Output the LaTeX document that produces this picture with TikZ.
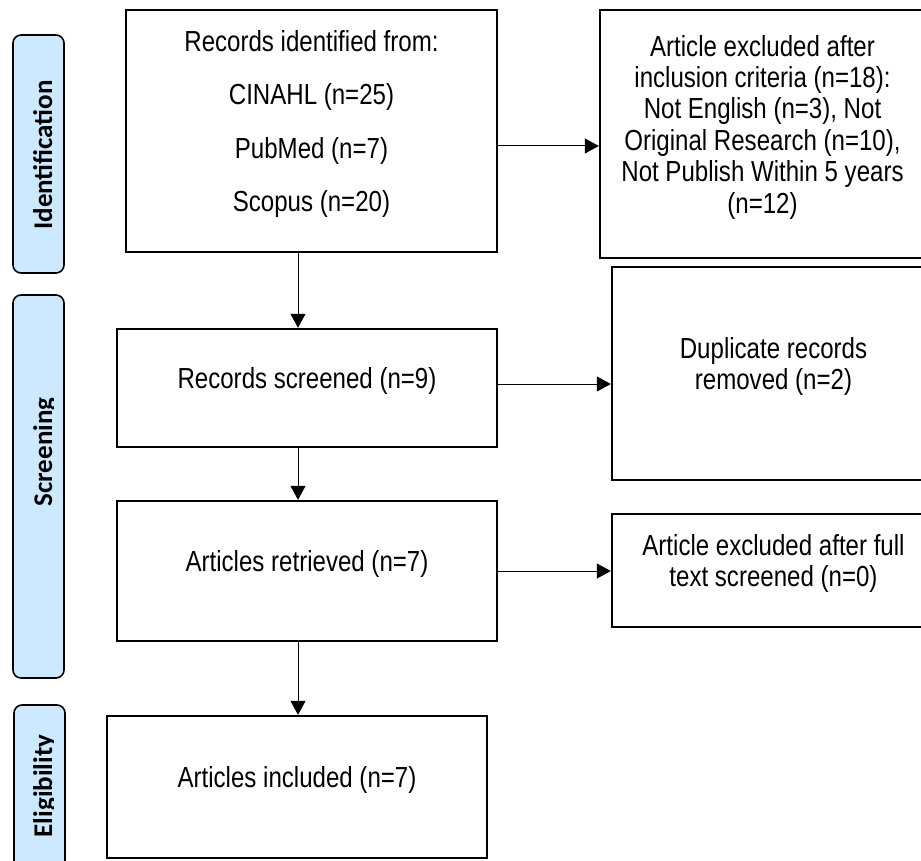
\documentclass[tikz,border=0pt]{standalone}
\usepackage{fontspec}
\setmainfont{Liberation Sans}[FakeStretch=0.83]
\newfontfamily\phasefont{Carlito}
\usetikzlibrary{arrows.meta}
\definecolor{phaseblue}{HTML}{CCE9FF}

\begin{document}
\begin{tikzpicture}[x=0.5pt, y=-0.5pt,
        box/.style={rectangle, draw, line width=1.2pt, align=center, inner sep=0pt, text depth=10pt, font=\fontsize{14.5pt}{15.7pt}\selectfont},
        phase/.style={rectangle, draw, line width=0.8pt, fill=phaseblue, rounded corners=4pt, minimum width=25.5pt, inner sep=0pt},
        phasetext/.style={rotate=90, anchor=base, inner sep=0pt, font=\phasefont\bfseries\fontsize{13.5pt}{16pt}\selectfont},
        arr/.style={-{Triangle[length=7pt, width=7.5pt]}, line width=0.5pt}]
        \useasboundingbox (0,0) rectangle (921,861);
        \clip (0,0) rectangle (921,861);

        \node[phase, minimum height=119pt] (idbar) at (38.5,154) {};
        \node[phase, minimum height=191.5pt] (scrbar) at (38.5,486.5) {};
        \node[phase, minimum height=85pt] (elibar) at (39.5,790) {};
        \begin{scope}
            \clip (0,0) rectangle (53.5,861);
            \node[phasetext] (idtxt) at (52,155) {Identification};
            \node[phasetext] (scrtxt) at (52,452) {Screening};
            \node[phasetext] (elitxt) at (52,786) {Eligibility};
        \end{scope}

        \node[box, minimum width=185.5pt, minimum height=121pt] (ids) at (311.5,131) {Records identified from:\\[11pt] CINAHL (n=25)\\[11pt] PubMed (n=7)\\[11pt] Scopus (n=20)};
        \node[box, minimum width=190pt, minimum height=59pt] (scr) at (307,388) {Records screened (n=9)};
        \node[box, minimum width=190pt, minimum height=70pt] (ret) at (307,571) {Articles retrieved (n=7)};
        \node[box, minimum width=190pt, minimum height=71pt] (inc) at (297,787) {Articles included (n=7)};
        \node[box, minimum width=162.5pt, minimum height=124pt] (excl) at (762.5,134) {Article excluded after\\ inclusion criteria (n=18):\\ Not English (n=3), Not\\ Original Research (n=10),\\ Not Publish Within 5 years\\ (n=12)};
        \node[box, minimum width=161.5pt, minimum height=106.5pt] (dup) at (773.5,373.5) {Duplicate records\\ removed (n=2)};
        \node[box, minimum width=161.5pt, minimum height=56.5pt] (full) at (773.5,570.5) {Article excluded after full\\ text screened (n=0)};

        \draw[arr] ([yshift=-7.5pt]ids.east) -- ([yshift=-7.5pt]ids.east -| excl.west);
        \draw[arr] ([xshift=-6.75pt]ids.south) -- ([xshift=-6.75pt]ids.south |- scr.north);
        \draw[arr] ([xshift=-4.5pt]scr.south) -- ([xshift=-4.5pt]ret.north);
        \draw[arr] ([yshift=2pt]scr.east) -- ([yshift=2pt]scr.east -| dup.west);
        \draw[arr] ([xshift=-4.5pt]ret.south) -- ([xshift=-4.5pt]ret.south |- inc.north);
        \draw[arr] (ret.east) -- (ret.east -| full.west);
    \end{tikzpicture}
\end{document}
